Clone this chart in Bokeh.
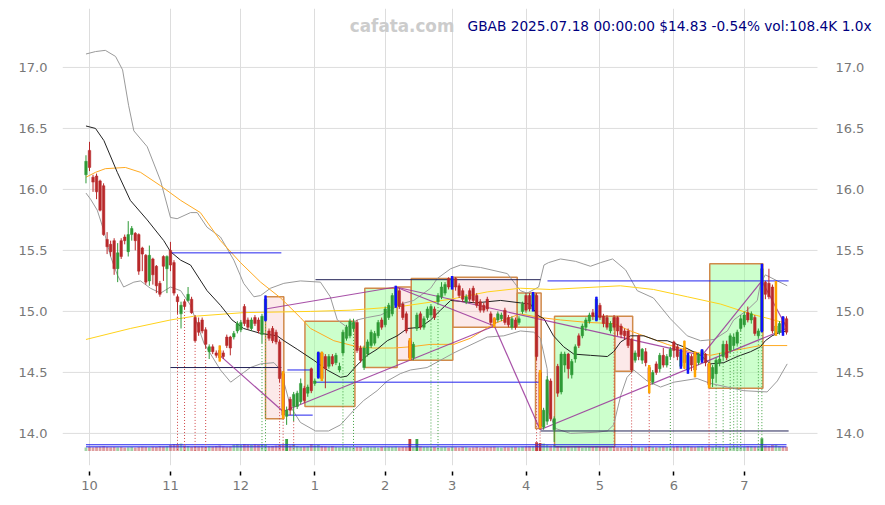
from bokeh.plotting import figure
from bokeh.models import Range1d, FixedTicker, PrintfTickFormatter, Label
from bokeh.core.properties import value
from bokeh.embed import file_html
from bokeh.resources import INLINE

# ---------------- data (trading-day index 0 = 2024-09-30 ... 199 = 2025-07-18) -------------
opens = [
    16.12, 16.32, 16.10, 16.11, 16.07, 16.03, 15.59, 15.55, 15.58, 15.35,
    15.58, 15.61, 15.49, 15.63, 15.64, 15.63, 15.52, 15.46, 15.25, 15.43,
    15.37, 15.23, 15.45, 15.35, 15.50, 15.40, 15.12, 14.98, 15.08, 15.09,
    15.10, 14.95, 14.91, 14.93, 14.85, 14.67, 14.71, 14.66, 14.68, 14.66,
    14.79, 14.79, 14.79, 14.84, 14.85, 15.04, 14.93, 14.86, 14.95, 14.93,
    14.81, 14.93, 14.84, 14.86, 14.83, 14.75, 14.49, 14.14, 14.28, 14.22,
    14.22, 14.26, 14.37, 14.33, 14.53, 14.41, 14.46, 14.66, 14.63, 14.55,
    14.63, 14.58, 14.52, 14.66, 14.78, 14.80, 14.86, 14.91, 14.70, 14.54,
    14.65, 14.72, 14.74, 14.80, 14.93, 14.89, 14.95, 14.98, 15.05, 15.17,
    15.06, 14.98, 14.76, 14.62, 14.86, 14.98, 14.87, 14.95, 14.97, 15.02,
    15.08, 15.12, 15.15, 15.27, 15.20, 15.27, 15.21, 15.17, 15.08, 15.17,
    15.19, 15.13, 15.08, 15.05, 15.10, 14.98, 14.94, 14.93, 14.94, 15.01,
    14.95, 14.87, 14.93, 14.91, 15.00, 15.13, 15.13, 15.02, 15.13, 14.50,
    14.05, 14.10, 14.43, 14.03, 14.55, 14.34, 14.56, 14.65, 14.48, 14.61,
    14.80, 14.80, 14.87, 14.92, 14.99, 14.93, 15.05, 14.96, 14.95, 14.84,
    14.95, 14.95, 14.88, 14.84, 14.84, 14.77, 14.60, 14.80, 14.60, 14.67,
    14.54, 14.42, 14.57, 14.53, 14.64, 14.56, 14.63, 14.75, 14.71, 14.55,
    14.70, 14.52, 14.63, 14.66, 14.58, 14.60, 14.65, 14.57, 14.45, 14.49,
    14.58, 14.63, 14.73, 14.68, 14.72, 14.74, 14.86, 14.89, 14.99, 14.93,
    14.95, 14.80, 14.84, 15.24, 15.23, 15.20, 14.82, 14.83, 14.95, 14.94,
]
highs = [
    16.28, 16.39, 16.12, 16.13, 16.08, 16.05, 15.65, 15.58, 15.60, 15.56,
    15.60, 15.63, 15.74, 15.70, 15.65, 15.64, 15.53, 15.47, 15.54, 15.44,
    15.38, 15.25, 15.46, 15.46, 15.57, 15.42, 15.14, 15.08, 15.10, 15.20,
    15.12, 14.97, 14.95, 14.95, 14.87, 14.73, 14.73, 14.68, 14.72, 14.68,
    14.81, 14.80, 14.84, 14.92, 14.93, 15.06, 14.95, 14.95, 14.97, 14.95,
    14.98, 15.13, 14.86, 14.88, 14.85, 14.77, 14.51, 14.22, 14.30, 14.34,
    14.35, 14.45, 14.39, 14.40, 14.54, 14.45, 14.67, 14.67, 14.65, 14.65,
    14.65, 14.66, 14.58, 14.85, 14.89, 14.94, 14.94, 14.93, 14.72, 14.72,
    14.77, 14.85, 14.84, 14.93, 14.95, 15.04, 15.07, 15.15, 15.21, 15.19,
    15.08, 15.00, 14.78, 14.75, 14.99, 15.00, 14.96, 15.04, 15.06, 15.04,
    15.15, 15.24, 15.24, 15.28, 15.29, 15.28, 15.23, 15.19, 15.14, 15.19,
    15.21, 15.15, 15.10, 15.07, 15.12, 15.00, 14.95, 15.00, 14.99, 15.03,
    14.97, 14.96, 14.95, 14.96, 15.08, 15.15, 15.15, 15.16, 15.15, 14.52,
    14.21, 14.47, 14.45, 14.14, 14.57, 14.67, 14.67, 14.66, 14.61, 14.73,
    14.82, 14.90, 14.95, 14.99, 15.02, 15.12, 15.07, 14.98, 14.97, 14.92,
    14.97, 14.96, 14.90, 14.86, 14.86, 14.78, 14.68, 14.81, 14.70, 14.70,
    14.56, 14.52, 14.59, 14.66, 14.70, 14.65, 14.71, 14.76, 14.73, 14.69,
    14.76, 14.66, 14.65, 14.67, 14.66, 14.69, 14.66, 14.58, 14.56, 14.62,
    14.66, 14.76, 14.76, 14.82, 14.82, 14.85, 14.97, 15.00, 15.04, 15.00,
    14.97, 14.86, 15.39, 15.25, 15.35, 15.22, 15.25, 14.92, 14.96, 14.96,
]
lows = [
    16.05, 16.15, 15.98, 15.92, 15.82, 15.62, 15.47, 15.45, 15.30, 15.24,
    15.43, 15.55, 15.45, 15.58, 15.50, 15.30, 15.33, 15.22, 15.21, 15.22,
    15.15, 15.12, 15.25, 15.15, 15.33, 15.13, 14.98, 14.86, 15.02, 15.08,
    14.98, 14.75, 14.80, 14.82, 14.70, 14.61, 14.65, 14.62, 14.59, 14.61,
    14.70, 14.64, 14.77, 14.82, 14.83, 14.88, 14.85, 14.84, 14.88, 14.82,
    14.74, 14.92, 14.76, 14.74, 14.73, 14.42, 14.12, 14.07, 14.15, 14.10,
    14.20, 14.24, 14.25, 14.30, 14.33, 14.39, 14.45, 14.43, 14.37, 14.53,
    14.55, 14.56, 14.50, 14.64, 14.76, 14.78, 14.84, 14.66, 14.58, 14.52,
    14.63, 14.70, 14.72, 14.78, 14.85, 14.87, 14.93, 14.96, 15.03, 15.02,
    14.93, 14.82, 14.60, 14.60, 14.84, 14.85, 14.85, 14.93, 14.95, 14.93,
    15.06, 15.10, 15.13, 15.18, 15.18, 15.17, 15.11, 15.08, 15.06, 15.08,
    15.07, 15.03, 14.99, 14.99, 15.00, 14.89, 14.87, 14.91, 14.92, 14.89,
    14.87, 14.85, 14.85, 14.89, 14.98, 14.99, 15.00, 15.00, 14.60, 14.04,
    14.03, 14.07, 14.10, 13.93, 14.30, 14.32, 14.50, 14.45, 14.45, 14.58,
    14.70, 14.78, 14.84, 14.90, 14.93, 14.92, 14.93, 14.87, 14.85, 14.82,
    14.85, 14.80, 14.78, 14.77, 14.70, 14.50, 14.58, 14.60, 14.57, 14.55,
    14.33, 14.40, 14.48, 14.50, 14.54, 14.54, 14.61, 14.62, 14.60, 14.53,
    14.53, 14.49, 14.51, 14.46, 14.56, 14.58, 14.55, 14.37, 14.38, 14.42,
    14.55, 14.60, 14.60, 14.66, 14.69, 14.72, 14.84, 14.87, 14.91, 14.90,
    14.80, 14.78, 14.83, 15.10, 15.10, 14.82, 14.80, 14.81, 14.80, 14.81,
]
closes = [
    16.23, 16.18, 16.06, 15.98, 15.83, 15.63, 15.53, 15.49, 15.35, 15.48,
    15.45, 15.58, 15.63, 15.68, 15.58, 15.33, 15.47, 15.24, 15.46, 15.30,
    15.21, 15.14, 15.37, 15.45, 15.38, 15.15, 15.08, 15.05, 15.04, 15.14,
    14.99, 14.76, 14.83, 14.84, 14.73, 14.71, 14.67, 14.64, 14.62, 14.63,
    14.72, 14.70, 14.82, 14.90, 14.91, 14.90, 14.87, 14.93, 14.90, 14.84,
    14.96, 15.10, 14.78, 14.76, 14.75, 14.45, 14.15, 14.19, 14.19, 14.32,
    14.33, 14.41, 14.27, 14.38, 14.35, 14.43, 14.66, 14.45, 14.53, 14.63,
    14.57, 14.64, 14.55, 14.83, 14.87, 14.92, 14.91, 14.68, 14.60, 14.70,
    14.75, 14.83, 14.82, 14.91, 14.87, 15.02, 15.05, 15.13, 15.19, 15.04,
    14.95, 14.84, 14.62, 14.73, 14.97, 14.87, 14.94, 15.02, 15.04, 14.95,
    15.13, 15.20, 15.22, 15.20, 15.27, 15.20, 15.13, 15.10, 15.12, 15.10,
    15.09, 15.05, 15.01, 15.01, 15.02, 14.91, 14.90, 14.98, 14.97, 14.91,
    14.89, 14.94, 14.87, 14.94, 15.06, 15.01, 15.02, 15.14, 14.63, 14.06,
    14.19, 14.44, 14.12, 14.12, 14.33, 14.65, 14.65, 14.53, 14.59, 14.71,
    14.72, 14.88, 14.93, 14.97, 14.96, 15.10, 14.95, 14.90, 14.87, 14.90,
    14.87, 14.84, 14.81, 14.80, 14.72, 14.52, 14.66, 14.63, 14.69, 14.58,
    14.43, 14.50, 14.50, 14.64, 14.56, 14.63, 14.69, 14.68, 14.63, 14.67,
    14.58, 14.64, 14.56, 14.52, 14.65, 14.68, 14.58, 14.40, 14.54, 14.60,
    14.61, 14.73, 14.62, 14.80, 14.79, 14.83, 14.94, 14.97, 14.93, 14.98,
    14.82, 14.84, 15.35, 15.14, 15.12, 14.84, 14.88, 14.90, 14.85, 14.83,
]
volume_k = [
    45, 50, 48, 52, 55, 60, 50, 48, 52, 47, 50, 45, 48, 50, 46, 52, 55, 50, 48, 53, 50,
    60, 58, 62, 75, 90, 85, 95, 70, 65,
    55, 60, 58, 62, 55, 60, 58, 65, 70, 60, 55, 58,
    80, 85, 75, 90, 82, 78, 85, 80, 88, 85,
    60, 65, 70, 75, 80, 150, 70, 90, 60, 55, 58,
    62, 90, 70, 75, 60, 58, 55, 62, 50, 48, 52, 55, 50,
    48, 52, 50, 46, 50, 48, 52, 45, 50, 47, 52, 50, 55, 48, 50, 52,
    150, 55, 150, 58, 52, 50, 48, 50,
    45, 48, 50, 46, 52, 48, 45, 50, 47, 44, 48, 50, 46, 52, 49, 50, 55, 48, 45, 50,
    47, 52, 50, 48, 55, 58, 60, 62,
    110, 100, 95, 80, 70, 75, 65, 60,
    52, 50, 48, 55, 50, 46, 48, 50, 52, 58, 50, 48, 52, 50, 55, 48, 50, 46, 52, 60,
    55, 50, 48, 52, 60,
    50, 48, 52, 55, 50, 48, 52, 60, 55, 58, 62, 55, 50, 58, 60, 52, 62, 55, 58, 60,
    52, 50, 55, 60, 58, 52, 55, 62, 60, 58, 55,
    160, 70, 65, 75, 80, 60, 58, 55,
]

month_ticks = [1, 24, 44, 65, 85, 104, 125, 146, 167, 187]
month_labels = ["10", "11", "12", "1", "2", "3", "4", "5", "6", "7"]
price_ticks = [14.0, 14.5, 15.0, 15.5, 16.0, 16.5, 17.0]
price_labels = ["14.0", "14.5", "15.0", "15.5", "16.0", "16.5", "17.0"]

# indicator lines (vertices)
sma_x = [0, 2.7, 5.1, 8.9, 12.6, 17.4, 22.1, 24, 26.9, 29.7, 34.4, 38.2, 41.5, 44.8, 49.6, 54.3,
         56.2, 60, 64.7, 68.5, 72.3, 74.2, 77, 79.9, 82.7, 85.6, 88.4, 91.3, 95, 97.9, 100.7, 103.6,
         110.7, 117.8, 123.4, 126.3, 128.2, 130.1, 132.8, 135.7, 138.6, 143.3, 148.1, 149.9, 151.9,
         154.7, 158.5, 162.3, 165.1, 169.8, 174.6, 177.4, 181.2, 185, 188.8, 191.6, 193, 194.9, 197.3, 199.2]
sma_y = [16.52, 16.50, 16.40, 16.14, 15.91, 15.75, 15.58, 15.49, 15.42, 15.38, 15.17, 15.05, 14.93, 14.86,
         14.82, 14.80, 14.76, 14.69, 14.60, 14.52, 14.46, 14.47, 14.56, 14.64, 14.69, 14.76, 14.80, 14.86,
         14.87, 14.93, 15.01, 15.09, 15.07, 15.09, 15.07, 15.06, 14.97, 14.94, 14.80, 14.71, 14.65, 14.64,
         14.63, 14.67, 14.75, 14.80, 14.80, 14.76, 14.76, 14.71, 14.64, 14.57, 14.58, 14.63, 14.67, 14.71,
         14.76, 14.80, 14.83, 14.84]
mid_x = [0, 2.7, 5.5, 11.2, 15.5, 21.2, 26.9, 32.5, 38.2, 43.9, 49.6, 55.3, 60.9, 63.8, 70.4, 77, 81.7,
         87.4, 92.2, 97.9, 104.5, 109.2, 115.9, 123.4, 129.1, 134.8, 142.4, 149.9, 154.7, 159.4, 165.1,
         170.8, 177.4, 184, 191.6, 199.2]
mid_y = [16.10, 16.14, 16.17, 16.18, 16.14, 16.03, 15.91, 15.81, 15.58, 15.40, 15.24, 15.11, 14.95, 14.86,
         14.76, 14.71, 14.70, 14.70, 14.71, 14.73, 14.73, 14.78, 14.90, 14.98, 14.95, 14.93, 14.91, 14.90,
         14.84, 14.79, 14.73, 14.68, 14.64, 14.68, 14.72, 14.72]
long_x = [0, 12.6, 24, 30.6, 44.8, 63.8, 75.1, 89.3, 103.6, 114, 123.4, 131.9, 151.8, 161.2, 170.8,
          180.3, 188.8, 195.4, 199.2]
long_y = [14.77, 14.86, 14.93, 14.96, 14.99, 15.00, 15.01, 15.04, 15.10, 15.16, 15.19, 15.18, 15.21,
          15.18, 15.12, 15.06, 14.98, 14.93, 14.90]
upper_x = [0, 2.7, 5.5, 8.4, 10.4, 12.1, 13.6, 17.4, 21.2, 24, 25.9, 29.7, 31.6, 34.4, 38.2, 42, 44.8,
           47.7, 49.6, 52.4, 56.2, 60.9, 66.6, 69.4, 71.4, 74.2, 77, 79.9, 83.7, 86.5, 89.3, 93.1, 97.9,
           99.8, 103.6, 106.4, 112.1, 119.7, 123.4, 125.3, 128.6, 130.1, 131.4, 134.8, 139.1, 143.3,
           146.2, 149.6, 153.3, 156.6, 161.2, 166, 170.8, 174.6, 178.4, 182.2, 184, 187.8, 190.7, 191.6,
           193, 196.4, 199.2]
upper_y = [17.11, 17.13, 17.14, 17.09, 16.98, 16.69, 16.48, 16.35, 16.07, 15.77, 15.76, 15.81, 15.81,
           15.69, 15.61, 15.42, 15.23, 15.12, 15.13, 15.19, 15.23, 15.25, 15.24, 15.12, 14.93, 14.87,
           14.93, 14.95, 14.97, 15.01, 15.06, 15.09, 15.19, 15.27, 15.35, 15.38, 15.36, 15.31, 15.17,
           15.15, 15.20, 15.38, 15.40, 15.43, 15.41, 15.37, 15.40, 15.43, 15.34, 15.17, 15.11, 14.94,
           14.80, 14.76, 14.77, 14.84, 14.93, 15.01, 15.09, 15.23, 15.30, 15.25, 15.21]
lower_x = [0, 1.3, 3.2, 5.1, 7, 8.9, 10.7, 13.6, 15.5, 18.3, 21.2, 24, 26.9, 29.7, 33.5, 38.2, 41.1,
           43.9, 46.7, 49.6, 53.4, 55.3, 58.1, 60.9, 65.2, 68.9, 72.3, 76.1, 78.9, 82.7, 85.6, 89.3,
           92.2, 96.9, 104.5, 114, 118.7, 123.4, 127.2, 129.1, 131, 131.5, 133.4, 137.6, 145.2, 148.1,
           149.9, 151.9, 153.7, 155.6, 159.4, 163.2, 167, 173.6, 177.4, 182.2, 186.9, 193.5, 196.4, 199.2]
lower_y = [15.97, 15.92, 15.83, 15.66, 15.45, 15.30, 15.20, 15.24, 15.25, 15.19, 15.15, 15.20, 15.17,
           15.05, 14.74, 14.52, 14.42, 14.48, 14.54, 14.57, 14.58, 14.52, 14.22, 14.09, 14.02, 14.02,
           14.07, 14.19, 14.27, 14.35, 14.43, 14.49, 14.52, 14.54, 14.66, 14.79, 14.80, 14.84, 14.83,
           14.78, 14.53, 14.17, 14.04, 14.00, 14.01, 14.02, 14.07, 14.31, 14.46, 14.52, 14.43, 14.38,
           14.42, 14.45, 14.41, 14.38, 14.35, 14.34, 14.43, 14.57]

# swing boxes
box_left = [51.0, 88.4, 104.2, 127.7, 150.2, 62.2, 79.2, 92.4, 122.5, 133.1, 177.2]
box_right = [56.2, 92.4, 122.5, 129.3, 155.3, 76.4, 88.4, 104.2, 127.7, 150.2, 192.3]
box_top = [15.12, 15.20, 15.28, 15.15, 14.96, 14.92, 15.19, 15.27, 15.15, 14.96, 15.39]
box_bottom = [14.12, 14.60, 14.87, 14.04, 14.51, 14.22, 14.54, 14.60, 14.87, 13.89, 14.37]
box_kind = ["down", "down", "down", "down", "down", "up", "up", "up", "up", "up", "up"]

# zig-zag / trend segments
zig_x0 = [38, 56, 51, 88, 116, 129, 88, 175, 192]
zig_y0 = [14.64, 14.18, 15.02, 15.20, 14.88, 14.03, 15.20, 14.64, 15.25]
zig_x1 = [56, 116, 88, 116, 129, 199, 175, 192, 199]
zig_y1 = [14.18, 14.88, 15.20, 14.88, 14.03, 14.86, 14.64, 15.25, 14.87]

# support / resistance levels
lvl_x0 = [24, 24, 57.2, 57.2, 65.2, 65.2, 131.1, 129.1]
lvl_x1 = [55.5, 55.5, 64.4, 64.4, 129.1, 128.6, 199.6, 199.6]
lvl_y = [15.48, 14.54, 14.52, 14.15, 15.26, 14.42, 15.25, 14.02]
lvl_kind = ["res", "sup", "res", "res", "sup", "res", "res", "sup"]
vol_levels = [13.907, 13.890]

# signal bars
high_marks = [51, 66, 88, 104, 127, 145, 169, 171, 175, 192, 198]
low_marks = [38, 56, 67, 92, 116, 129, 160, 170, 173, 177, 196]
dot_down = [26, 28, 31, 34, 55, 56, 59, 128, 129, 150, 155, 160, 177]
dot_up = [50, 51, 73, 76, 98, 100, 166, 179, 181, 183, 184, 185, 186, 191, 192]

title_text = "GBAB 2025.07.18 00:00:00 $14.83 -0.54% vol:108.4K 1.0x"
watermark = "cafata.com"

# ---------------- figure -------------
n = len(closes)
idx = list(range(n))
FONT = "DejaVu Sans"
UP, DOWN = "#2e9a36", "#b8282a"
GRID_X0, GRID_X1 = -6.67, 207.8      # extent of the horizontal grid (data units)
RIGHT_LABEL_X = 212.9                  # where the right-hand price labels sit

p = figure(width=880, height=497, x_range=Range1d(GRID_X0, 225.7), y_range=Range1d(13.737, 17.483),
           output_backend="svg", toolbar_location=None,
           min_border_left=62, min_border_right=0, min_border_top=8, min_border_bottom=32)
p.outline_line_color = None
p.background_fill_color = "white"

# axes
p.xaxis.ticker = FixedTicker(ticks=month_ticks)
p.xaxis.major_label_overrides = {t: l for t, l in zip(month_ticks, month_labels)}
p.xaxis.axis_line_color = None
p.xaxis.major_tick_in = -6
p.xaxis.major_tick_out = 10
p.xaxis.major_tick_line_color = "black"
p.xaxis.major_tick_line_width = 1.5
p.xaxis.minor_tick_line_color = None
p.xaxis.major_label_standoff = 5
p.xaxis.major_label_text_color = "#777777"
p.xaxis.major_label_text_font = FONT
p.xaxis.major_label_text_font_size = "13px"

p.yaxis.ticker = FixedTicker(ticks=price_ticks)
p.yaxis.formatter = PrintfTickFormatter(format="%.1f")
p.yaxis.axis_line_color = None
p.yaxis.major_tick_line_color = None
p.yaxis.minor_tick_line_color = None
p.yaxis.major_label_standoff = 9
p.yaxis.major_label_text_color = "#777777"
p.yaxis.major_label_text_font = FONT
p.yaxis.major_label_text_font_size = "13px"

p.xgrid.ticker = FixedTicker(ticks=month_ticks)
p.xgrid.grid_line_color = "#dddddd"
p.ygrid.grid_line_color = None
# horizontal grid limited to the chart area (the right price labels live inside the frame)
p.segment(x0=GRID_X0, x1=GRID_X1, y0=price_ticks, y1=price_ticks, line_color="#dddddd", line_width=1)
p.text(x=RIGHT_LABEL_X, y=price_ticks, text=price_labels, text_align="left", text_baseline="middle",
       text_color="#777777", text_font=value(FONT), text_font_size="13px")

# boxes
for l, r, t, b, k in zip(box_left, box_right, box_top, box_bottom, box_kind):
    fill = "#99ff99" if k == "up" else "#f8c8c8"
    alpha = 0.5 if k == "up" else 0.4
    p.quad(left=l, right=r, top=t, bottom=b, fill_color=fill, fill_alpha=alpha,
           line_color="#d08a4a", line_width=1.5)

# indicator lines
p.line(upper_x, upper_y, line_color="#9a9a9a", line_width=1)
p.line(lower_x, lower_y, line_color="#9a9a9a", line_width=1)
p.line(long_x, long_y, line_color="#ffd21a", line_width=1)
p.line(mid_x, mid_y, line_color="#ffaa22", line_width=1)
p.line(sma_x, sma_y, line_color="#222222", line_width=1)

# levels
for x0, x1, y, k in zip(lvl_x0, lvl_x1, lvl_y, lvl_kind):
    p.line([x0, x1], [y, y], line_color="#2222ee" if k == "res" else "#222255", line_width=1)

# zig-zag
p.segment(x0=zig_x0, y0=zig_y0, x1=zig_x1, y1=zig_y1, line_color="#993399", line_alpha=0.85,
          line_width=1.2)

# volume
VOL_BASE = 13.855
VOL_SCALE = 0.000656
vcol = [UP if c >= o else DOWN for o, c in zip(opens, closes)]
valpha = [0.9 if v >= 100 else 0.45 for v in volume_k]
p.vbar(x=idx, width=0.8, bottom=VOL_BASE, top=[VOL_BASE + v * VOL_SCALE for v in volume_k],
       fill_color=vcol, line_color=None, fill_alpha=valpha)
for y in vol_levels:
    p.line([idx[0], idx[-1]], [y, y], line_color="#2222ee", line_width=1)

# dotted signal lines
p.segment(x0=dot_down, x1=dot_down, y0=[lows[i] for i in dot_down], y1=VOL_BASE,
          line_color="#d04545", line_dash="1 2", line_width=1)
p.segment(x0=dot_up, x1=dot_up, y0=[lows[i] for i in dot_up], y1=VOL_BASE,
          line_color="#40a040", line_dash="1 2", line_width=1)

# candles
ccol = [UP if c >= o else DOWN for o, c in zip(opens, closes)]
p.segment(x0=idx, x1=idx, y0=lows, y1=highs, line_color=ccol, line_width=1)
p.vbar(x=idx, width=0.72, top=[max(o, c) for o, c in zip(opens, closes)],
       bottom=[min(o, c) for o, c in zip(opens, closes)], fill_color=ccol, line_color=ccol,
       line_width=0.5)

# signal markers
p.segment(x0=high_marks, x1=high_marks, y0=[lows[i] for i in high_marks],
          y1=[highs[i] for i in high_marks], line_color="#1010ff", line_width=2.5)
p.segment(x0=low_marks, x1=low_marks, y0=[lows[i] for i in low_marks],
          y1=[highs[i] for i in low_marks], line_color="#ffa500", line_width=2.5)

# texts
p.add_layout(Label(x=89.8, y=17.336, text=watermark, text_align="center", text_baseline="middle",
                   text_color="#cccccc", text_font=FONT, text_font_style="bold",
                   text_font_size="16.8px"))
p.add_layout(Label(x=108.4, y=17.336, text=title_text, text_align="left", text_baseline="middle",
                   text_color="#000080", text_font=FONT, text_font_size="13.7px"))

open("out.html", "w").write(file_html(p, INLINE))
